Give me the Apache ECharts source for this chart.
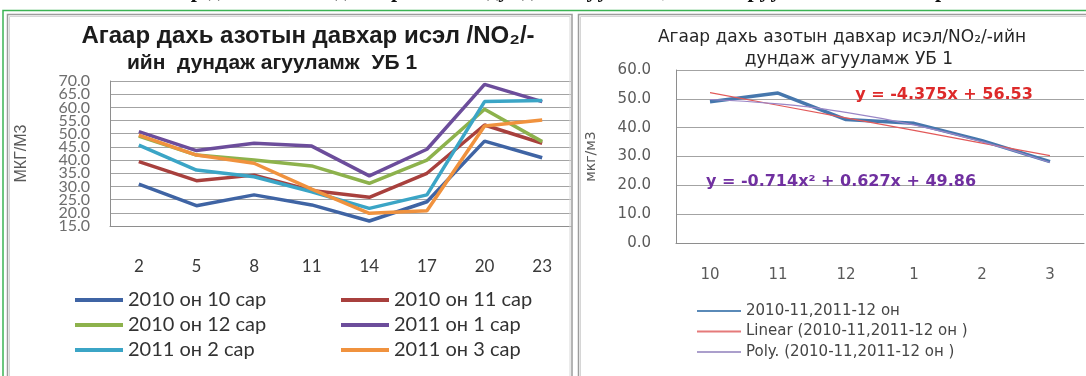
<!DOCTYPE html>
<html>
<head>
<meta charset="utf-8">
<script src="https://cdn.jsdelivr.net/npm/echarts@6/dist/echarts.min.js"></script>
<style>
  html, body { margin: 0; padding: 0; background: #ffffff; }
  #chart { width: 1086px; height: 376px; }
</style>
</head>
<body>
<div id="chart"></div>
<script>
// ---- Left chart: hourly mean NO2, station УБ 1, one line per month ----
const hours = ['2', '5', '8', '11', '14', '17', '20', '23'];
const oct2010 = [30.9, 22.7, 26.8, 23.0, 16.9, 24.2, 47.2, 40.9];
const nov2010 = [39.4, 32.2, 34.3, 28.5, 25.9, 35.0, 53.3, 46.4];
const dec2010 = [49.1, 41.9, 40.0, 37.8, 31.2, 40.0, 59.3, 47.0];
const jan2011 = [50.8, 43.6, 46.4, 45.3, 34.0, 44.1, 68.7, 62.2];
const feb2011 = [45.7, 36.2, 33.7, 28.0, 21.7, 26.8, 62.2, 62.6];
const mar2011 = [49.5, 41.9, 38.8, 29.0, 19.8, 20.8, 52.9, 55.2];
const monthNames = ['2010 он 10 сар', '2010 он 11 сар', '2010 он 12 сар',
                    '2011 он 1 сар', '2011 он 2 сар', '2011 он 3 сар'];
// tick labels of the left value axis, bottom to top (15 .. 70 step 5)
const leftTicks = ['15.0', '20.0', '25.0', '30.0', '35.0', '40.0',
                   '45.0', '50.0', '55.0', '60.0', '65.0', '70.0'];

// ---- Right chart: monthly mean NO2 with fitted trend lines ----
const months = ['10', '11', '12', '1', '2', '3'];
const monthlyMean = [49.0, 52.0, 42.8, 41.5, 35.5, 28.2];
const linearCoef = [-4.375, 56.53];          // y = a*x + b
const polyCoef = [-0.714, 0.627, 49.86];     // y = a*x^2 + b*x + c
const trendNames = ['2010-11,2011-12 он', 'Linear (2010-11,2011-12 он )', 'Poly. (2010-11,2011-12 он )'];

// trend lines evaluated at the category positions x = 1..n
const linearFit = months.map((_, i) => +(linearCoef[0] * (i + 1) + linearCoef[1]).toFixed(3));
const polyFit = months.map((_, i) => {
  const x = i + 1;
  return +(polyCoef[0] * x * x + polyCoef[1] * x + polyCoef[2]).toFixed(3);
});

const lineColors = ['#3f64a4', '#a8403d', '#8db24c', '#6c4d9b', '#3ba5c6', '#f0923e'];
const monthData = [oct2010, nov2010, dec2010, jan2011, feb2011, mar2011];

const axisGray = '#8e8e8e';
const gridGray = '#a3a3a3';

const chart = echarts.init(document.getElementById('chart'), null, { renderer: 'canvas' });

const leftSeries = monthData.map((vals, i) => ({
  name: monthNames[i],
  type: 'line',
  xAxisIndex: 0,
  yAxisIndex: 0,
  data: vals,
  symbol: 'none',
  lineStyle: { width: 3.5, color: lineColors[i] },
  itemStyle: { color: lineColors[i] },
  z: 3 + i,
  animation: false
}));

const rightSeries = [
  {
    name: trendNames[0], type: 'line', xAxisIndex: 1, yAxisIndex: 1,
    data: monthlyMean, symbol: 'none',
    lineStyle: { width: 3.5, color: '#4677ad' }, itemStyle: { color: '#5a8ab8' },
    z: 3, animation: false
  },
  {
    name: trendNames[1], type: 'line', xAxisIndex: 1, yAxisIndex: 1,
    data: linearFit, symbol: 'none',
    lineStyle: { width: 1.2, color: '#e25a5a' }, itemStyle: { color: '#e57a7a' },
    z: 4, animation: false
  },
  {
    name: trendNames[2], type: 'line', xAxisIndex: 1, yAxisIndex: 1,
    data: polyFit, symbol: 'none', smooth: true,
    lineStyle: { width: 1.2, color: '#9a86c6' }, itemStyle: { color: '#ab9fcc' },
    z: 5, animation: false
  }
];

const option = {
  backgroundColor: '#ffffff',
  animation: false,
  grid: [
    { left: 110, top: 81, width: 461, height: 145 },
    { left: 676, top: 70, width: 408, height: 173 }
  ],
  xAxis: [
    {
      gridIndex: 0, type: 'category', data: hours, boundaryGap: true,
      axisLine: { show: true, lineStyle: { color: axisGray, width: 1 } },
      axisTick: { show: false },
      axisLabel: { margin: 32, fontFamily: 'Lato', fontSize: 17, color: '#3a3a3a' },
      splitLine: { show: false }
    },
    {
      gridIndex: 1, type: 'category', data: months, boundaryGap: true,
      axisLine: { show: true, lineStyle: { color: axisGray, width: 1 } },
      axisTick: { show: false },
      axisLabel: { margin: 25, fontFamily: 'DejaVu Sans', fontSize: 15, color: '#5a5a5a' },
      splitLine: { show: false }
    }
  ],
  yAxis: [
    {
      gridIndex: 0, type: 'value', min: 15, max: 70, interval: 5,
      name: 'МКГ/М3', nameLocation: 'middle', nameGap: 80, nameRotate: 90,
      nameTextStyle: { fontFamily: 'Liberation Sans', fontSize: 16, color: '#5a5a5a' },
      axisLine: { show: true, lineStyle: { color: axisGray, width: 1 } },
      axisTick: { show: false },
      axisLabel: { show: false },
      splitLine: { show: true, lineStyle: { color: gridGray, width: 1 } }
    },
    {
      gridIndex: 1, type: 'value', min: 0, max: 60, interval: 10,
      name: 'мкг/м3', nameLocation: 'middle', nameGap: 78, nameRotate: 90,
      nameTextStyle: { fontFamily: 'DejaVu Sans', fontSize: 14, color: '#5a5a5a' },
      axisLine: { show: true, lineStyle: { color: axisGray, width: 1 } },
      axisTick: { show: false },
      axisLabel: { margin: 25, fontFamily: 'DejaVu Sans', fontSize: 15, color: '#5a5a5a',
                   showMinLabel: true, showMaxLabel: true,
                   formatter: v => v.toFixed(1) },
      splitLine: { show: true, lineStyle: { color: gridGray, width: 1 } }
    },
    {
      // label track for the left value axis: every tick is labelled even though
      // the labels are packed tighter than their glyph height
      gridIndex: 0, type: 'category', data: leftTicks, boundaryGap: false,
      position: 'left',
      axisLine: { show: false }, axisTick: { show: false }, splitLine: { show: false },
      axisLabel: { interval: 0, margin: 20, fontFamily: 'Lato', fontSize: 16, color: '#6e6e6e' }
    }
  ],
  legend: [
    {
      orient: 'vertical', left: 70, top: 284, itemGap: 3,
      itemWidth: 48, itemHeight: 4, icon: 'rect',
      data: [monthNames[0], monthNames[2], monthNames[4]],
      textStyle: { fontFamily: 'Lato', fontSize: 20, lineHeight: 22, color: '#333333' },
      selectedMode: false
    },
    {
      orient: 'vertical', left: 336, top: 284, itemGap: 3,
      itemWidth: 48, itemHeight: 4, icon: 'rect',
      data: [monthNames[1], monthNames[3], monthNames[5]],
      textStyle: { fontFamily: 'Lato', fontSize: 20, lineHeight: 22, color: '#333333' },
      selectedMode: false
    },
    {
      orient: 'vertical', left: 692, top: 298, itemGap: 4.5,
      itemWidth: 44, itemHeight: 2, icon: 'rect',
      data: trendNames,
      textStyle: { fontFamily: 'DejaVu Sans', fontSize: 15, lineHeight: 16, color: '#454545' },
      selectedMode: false
    }
  ],
  graphic: [
    // document heading cut by the top edge
    { type: 'text', x: 545, y: 2, z: 1,
      style: { text: 'Агаар дахь азотын давхар ислийн дундаж агууламж, УБ 1 харуулын хэмжилтээр',
               font: 'bold 22px "Liberation Serif"', fill: '#111111', align: 'center', verticalAlign: 'bottom' } },
    // table frame
    { type: 'rect', z: 2, shape: { x: 3, y: 10.5, width: 1100, height: 400 },
      style: { fill: 'none', stroke: '#3cb454', lineWidth: 1.5 } },
    { type: 'rect', z: 2, shape: { x: 7.5, y: 14.5, width: 564.5, height: 400 },
      style: { fill: 'none', stroke: '#9c9c9c', lineWidth: 1.5 } },
    { type: 'rect', z: 2, shape: { x: 9.5, y: 16.5, width: 560.5, height: 400 },
      style: { fill: 'none', stroke: '#d6d6d6', lineWidth: 1 } },
    { type: 'rect', z: 2, shape: { x: 578.5, y: 14.5, width: 520, height: 400 },
      style: { fill: 'none', stroke: '#9c9c9c', lineWidth: 1.5 } },
    { type: 'rect', z: 2, shape: { x: 580.5, y: 16.5, width: 520, height: 400 },
      style: { fill: 'none', stroke: '#d6d6d6', lineWidth: 1 } },
    // left chart title
    { type: 'text', x: 308, y: 36, z: 10,
      style: { text: 'Агаар дахь азотын давхар исэл /NO₂/-', font: 'bold 24px "Liberation Sans"',
               fill: '#1c1c1c', align: 'center', verticalAlign: 'middle' } },
    { type: 'text', x: 272, y: 63, z: 10,
      style: { text: 'ийн  дундаж агууламж  УБ 1', font: 'bold 21px "Liberation Sans"',
               fill: '#1c1c1c', align: 'center', verticalAlign: 'middle' } },
    // right chart title
    { type: 'text', x: 842, y: 38, z: 10,
      style: { text: 'Агаар дахь азотын давхар исэл/NO₂/-ийн', font: '17px "DejaVu Sans"',
               fill: '#262626', align: 'center', verticalAlign: 'middle' } },
    { type: 'text', x: 849, y: 60, z: 10,
      style: { text: 'дундаж агууламж УБ 1', font: '17px "DejaVu Sans"',
               fill: '#262626', align: 'center', verticalAlign: 'middle' } },
    // trend equations
    { type: 'text', x: 944, y: 95, z: 10,
      style: { text: 'y = -4.375x + 56.53', font: 'bold 16px "DejaVu Sans"',
               fill: '#dd2a2a', align: 'center', verticalAlign: 'middle' } },
    { type: 'text', x: 841, y: 182, z: 10,
      style: { text: 'y = -0.714x² + 0.627x + 49.86', font: 'bold 16px "DejaVu Sans"',
               fill: '#7030a0', align: 'center', verticalAlign: 'middle' } }
  ],
  series: leftSeries.concat(rightSeries)
};

chart.setOption(option);
</script>
</body>
</html>
